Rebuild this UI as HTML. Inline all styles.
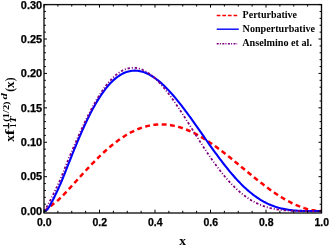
<!DOCTYPE html>
<html><head><meta charset="utf-8"><title>Plot</title>
<style>
html,body{margin:0;padding:0;background:#fff;}
svg{display:block;will-change:transform;}
</style></head>
<body>
<svg width="329" height="245" viewBox="0 0 329 245">
<rect width="329" height="245" fill="#fff"/>
<clipPath id="c"><rect x="44.0" y="4.6" width="277.5" height="208.4"/></clipPath>
<g clip-path="url(#c)" fill="none" stroke-linejoin="round">
<path d="M44.00,211.10 L44.51,210.84 L45.13,210.45 L45.81,209.99 L46.51,209.47 L47.25,208.90 L48.01,208.30 L48.79,207.68 L49.58,207.02 L50.39,206.35 L51.21,205.66 L52.05,204.96 L52.90,204.27 L53.75,203.60 L54.62,202.93 L55.50,202.26 L56.38,201.57 L57.28,200.85 L58.18,200.07 L59.09,199.22 L60.01,198.32 L60.93,197.41 L61.86,196.47 L62.80,195.52 L63.74,194.54 L64.69,193.55 L65.64,192.55 L66.60,191.53 L67.57,190.50 L68.54,189.46 L69.51,188.40 L70.50,187.33 L71.48,186.25 L72.47,185.16 L73.46,184.07 L74.46,182.97 L75.47,181.86 L76.47,180.75 L77.49,179.63 L78.50,178.51 L79.52,177.39 L80.54,176.27 L81.57,175.14 L82.60,174.02 L83.63,172.89 L84.67,171.76 L85.71,170.64 L86.76,169.52 L87.81,168.40 L88.86,167.28 L89.91,166.16 L90.97,165.05 L92.03,163.95 L93.09,162.85 L94.16,161.76 L95.23,160.67 L96.30,159.59 L97.38,158.52 L98.46,157.46 L99.54,156.40 L100.62,155.36 L101.71,154.32 L102.80,153.30 L103.89,152.29 L104.98,151.28 L106.08,150.29 L107.18,149.32 L108.28,148.35 L109.39,147.40 L110.49,146.47 L111.60,145.54 L112.72,144.64 L113.83,143.74 L114.95,142.87 L116.06,142.01 L117.19,141.16 L118.31,140.33 L119.43,139.53 L120.56,138.73 L121.69,137.96 L122.82,137.20 L123.96,136.47 L125.09,135.75 L126.23,135.05 L127.37,134.37 L128.52,133.72 L129.66,133.08 L130.81,132.46 L131.95,131.87 L133.11,131.29 L134.26,130.74 L135.41,130.21 L136.57,129.70 L137.73,129.21 L138.89,128.75 L140.05,128.30 L141.21,127.89 L142.38,127.49 L143.54,127.12 L144.71,126.77 L145.88,126.44 L147.06,126.14 L148.23,125.86 L149.41,125.61 L150.58,125.38 L151.76,125.17 L152.94,124.99 L154.13,124.83 L155.31,124.70 L156.50,124.59 L157.69,124.51 L158.88,124.45 L160.07,124.41 L161.26,124.40 L162.45,124.42 L163.65,124.46 L164.85,124.52 L166.04,124.61 L167.25,124.72 L168.45,124.85 L169.65,125.01 L170.86,125.20 L172.06,125.40 L173.27,125.64 L174.48,125.89 L175.69,126.17 L176.90,126.47 L178.12,126.80 L179.33,127.15 L180.55,127.52 L181.77,127.92 L182.98,128.33 L184.21,128.77 L185.43,129.24 L186.65,129.72 L187.88,130.23 L189.10,130.75 L190.33,131.30 L191.56,131.87 L192.79,132.46 L194.02,133.07 L195.25,133.70 L196.49,134.35 L197.72,135.01 L198.96,135.70 L200.20,136.41 L201.44,137.13 L202.68,137.87 L203.92,138.63 L205.16,139.41 L206.41,140.20 L207.65,141.01 L208.90,141.83 L210.15,142.67 L211.40,143.52 L212.65,144.39 L213.90,145.28 L215.16,146.17 L216.41,147.08 L217.66,148.00 L218.92,148.94 L220.18,149.88 L221.44,150.84 L222.70,151.80 L223.96,152.78 L225.22,153.77 L226.49,154.76 L227.75,155.76 L229.02,156.78 L230.28,157.79 L231.55,158.82 L232.82,159.85 L234.09,160.89 L235.36,161.93 L236.64,162.97 L237.91,164.02 L239.18,165.07 L240.46,166.13 L241.74,167.19 L243.02,168.24 L244.29,169.30 L245.57,170.36 L246.86,171.42 L248.14,172.48 L249.42,173.53 L250.71,174.59 L251.99,175.64 L253.28,176.68 L254.57,177.72 L255.85,178.76 L257.14,179.79 L258.43,180.82 L259.73,181.84 L261.02,182.85 L262.31,183.85 L263.61,184.84 L264.90,185.83 L266.20,186.80 L267.50,187.77 L268.79,188.72 L270.09,189.66 L271.39,190.59 L272.70,191.51 L274.00,192.41 L275.30,193.29 L276.61,194.17 L277.91,195.02 L279.22,195.87 L280.53,196.69 L281.83,197.50 L283.14,198.29 L284.45,199.06 L285.76,199.81 L287.08,200.54 L288.39,201.26 L289.70,201.95 L291.02,202.62 L292.33,203.27 L293.65,203.90 L294.97,204.50 L296.29,205.08 L297.60,205.64 L298.92,206.18 L300.25,206.69 L301.57,207.17 L302.89,207.63 L304.21,208.07 L305.54,208.48 L306.86,208.86 L308.19,209.21 L309.52,209.54 L310.85,209.84 L312.17,210.11 L313.50,210.35 L314.83,210.56 L316.17,210.73 L317.50,210.88 L318.83,210.99 L320.17,211.07 L321.50,211.10" stroke="#ff0000" stroke-width="2.5" stroke-dasharray="4.9 3.44" stroke-dashoffset="0.2"/>
<path d="M44.00,211.10 L44.51,211.03 L45.13,210.81 L45.81,210.43 L46.51,209.97 L47.25,209.37 L48.01,208.49 L48.79,207.35 L49.58,206.07 L50.39,204.64 L51.21,203.09 L52.05,201.51 L52.90,199.90 L53.75,198.21 L54.62,196.45 L55.50,194.65 L56.38,192.81 L57.28,190.90 L58.18,188.94 L59.09,186.93 L60.01,184.85 L60.93,182.74 L61.86,180.54 L62.80,178.24 L63.74,175.89 L64.69,173.50 L65.64,171.08 L66.60,168.63 L67.57,166.18 L68.54,163.72 L69.51,161.27 L70.50,158.81 L71.48,156.34 L72.47,153.88 L73.46,151.41 L74.46,148.96 L75.47,146.51 L76.47,144.07 L77.49,141.64 L78.50,139.23 L79.52,136.84 L80.54,134.47 L81.57,132.12 L82.60,129.80 L83.63,127.50 L84.67,125.23 L85.71,122.99 L86.76,120.79 L87.81,118.62 L88.86,116.49 L89.91,114.39 L90.97,112.33 L92.03,110.31 L93.09,108.33 L94.16,106.40 L95.23,104.51 L96.30,102.66 L97.38,100.86 L98.46,99.11 L99.54,97.40 L100.62,95.74 L101.71,94.13 L102.80,92.58 L103.89,91.07 L104.98,89.61 L106.08,88.20 L107.18,86.85 L108.28,85.55 L109.39,84.30 L110.49,83.11 L111.60,81.97 L112.72,80.88 L113.83,79.85 L114.95,78.87 L116.06,77.95 L117.19,77.08 L118.31,76.27 L119.43,75.51 L120.56,74.81 L121.69,74.16 L122.82,73.57 L123.96,73.03 L125.09,72.55 L126.23,72.12 L127.37,71.75 L128.52,71.43 L129.66,71.16 L130.81,70.95 L131.95,70.80 L133.11,70.69 L134.26,70.64 L135.41,70.65 L136.57,70.70 L137.73,70.81 L138.89,70.97 L140.05,71.18 L141.21,71.45 L142.38,71.76 L143.54,72.12 L144.71,72.53 L145.88,72.99 L147.06,73.50 L148.23,74.06 L149.41,74.66 L150.58,75.31 L151.76,76.01 L152.94,76.75 L154.13,77.54 L155.31,78.37 L156.50,79.24 L157.69,80.15 L158.88,81.11 L160.07,82.10 L161.26,83.14 L162.45,84.21 L163.65,85.33 L164.85,86.48 L166.04,87.66 L167.25,88.89 L168.45,90.14 L169.65,91.43 L170.86,92.75 L172.06,94.11 L173.27,95.49 L174.48,96.90 L175.69,98.34 L176.90,99.81 L178.12,101.31 L179.33,102.83 L180.55,104.37 L181.77,105.94 L182.98,107.53 L184.21,109.13 L185.43,110.76 L186.65,112.41 L187.88,114.07 L189.10,115.75 L190.33,117.45 L191.56,119.15 L192.79,120.87 L194.02,122.61 L195.25,124.35 L196.49,126.10 L197.72,127.85 L198.96,129.61 L200.20,131.38 L201.44,133.15 L202.68,134.93 L203.92,136.70 L205.16,138.48 L206.41,140.25 L207.65,142.02 L208.90,143.78 L210.15,145.55 L211.40,147.30 L212.65,149.05 L213.90,150.79 L215.16,152.52 L216.41,154.23 L217.66,155.94 L218.92,157.63 L220.18,159.31 L221.44,160.97 L222.70,162.62 L223.96,164.25 L225.22,165.86 L226.49,167.44 L227.75,169.01 L229.02,170.56 L230.28,172.09 L231.55,173.59 L232.82,175.06 L234.09,176.51 L235.36,177.94 L236.64,179.34 L237.91,180.71 L239.18,182.05 L240.46,183.36 L241.74,184.65 L243.02,185.90 L244.29,187.13 L245.57,188.32 L246.86,189.48 L248.14,190.61 L249.42,191.70 L250.71,192.77 L251.99,193.80 L253.28,194.80 L254.57,195.76 L255.85,196.69 L257.14,197.59 L258.43,198.45 L259.73,199.28 L261.02,200.08 L262.31,200.84 L263.61,201.58 L264.90,202.27 L266.20,202.94 L267.50,203.57 L268.79,204.17 L270.09,204.74 L271.39,205.28 L272.70,205.79 L274.00,206.27 L275.30,206.72 L276.61,207.14 L277.91,207.54 L279.22,207.90 L280.53,208.25 L281.83,208.56 L283.14,208.85 L284.45,209.12 L285.76,209.36 L287.08,209.59 L288.39,209.79 L289.70,209.97 L291.02,210.14 L292.33,210.29 L293.65,210.42 L294.97,210.53 L296.29,210.63 L297.60,210.72 L298.92,210.79 L300.25,210.86 L301.57,210.91 L302.89,210.95 L304.21,210.99 L305.54,211.02 L306.86,211.04 L308.19,211.06 L309.52,211.07 L310.85,211.08 L312.17,211.09 L313.50,211.09 L314.83,211.10 L316.17,211.10 L317.50,211.10 L318.83,211.10 L320.17,211.10 L321.50,211.10" stroke="#0000ff" stroke-width="2.1"/>
<path d="M44.00,211.10 L44.51,210.95 L45.13,210.29 L45.81,209.02 L46.51,207.43 L47.25,205.94 L48.01,204.60 L48.79,203.16 L49.58,201.64 L50.39,200.06 L51.21,198.46 L52.05,196.80 L52.90,195.12 L53.75,193.42 L54.62,191.66 L55.50,189.84 L56.38,187.96 L57.28,186.05 L58.18,184.16 L59.09,182.24 L60.01,180.19 L60.93,177.97 L61.86,175.69 L62.80,173.34 L63.74,170.96 L64.69,168.54 L65.64,166.12 L66.60,163.70 L67.57,161.29 L68.54,158.93 L69.51,156.61 L70.50,154.29 L71.48,151.97 L72.47,149.65 L73.46,147.33 L74.46,145.02 L75.47,142.71 L76.47,140.41 L77.49,138.11 L78.50,135.83 L79.52,133.56 L80.54,131.31 L81.57,129.07 L82.60,126.85 L83.63,124.65 L84.67,122.47 L85.71,120.31 L86.76,118.17 L87.81,116.07 L88.86,113.98 L89.91,111.93 L90.97,109.91 L92.03,107.92 L93.09,105.96 L94.16,104.04 L95.23,102.15 L96.30,100.30 L97.38,98.49 L98.46,96.72 L99.54,94.99 L100.62,93.31 L101.71,91.67 L102.80,90.07 L103.89,88.53 L104.98,87.03 L106.08,85.57 L107.18,84.17 L108.28,82.82 L109.39,81.53 L110.49,80.28 L111.60,79.09 L112.72,77.96 L113.83,76.88 L114.95,75.86 L116.06,74.90 L117.19,73.99 L118.31,73.15 L119.43,72.36 L120.56,71.63 L121.69,70.97 L122.82,70.37 L123.96,69.83 L125.09,69.35 L126.23,68.93 L127.37,68.58 L128.52,68.28 L129.66,68.06 L130.81,67.89 L131.95,67.79 L133.11,67.75 L134.26,67.78 L135.41,67.86 L136.57,68.01 L137.73,68.23 L138.89,68.50 L140.05,68.84 L141.21,69.24 L142.38,69.70 L143.54,70.22 L144.71,70.79 L145.88,71.43 L147.06,72.13 L148.23,72.88 L149.41,73.69 L150.58,74.56 L151.76,75.48 L152.94,76.46 L154.13,77.49 L155.31,78.57 L156.50,79.70 L157.69,80.88 L158.88,82.11 L160.07,83.39 L161.26,84.71 L162.45,86.08 L163.65,87.49 L164.85,88.94 L166.04,90.43 L167.25,91.96 L168.45,93.53 L169.65,95.13 L170.86,96.77 L172.06,98.44 L173.27,100.14 L174.48,101.87 L175.69,103.62 L176.90,105.41 L178.12,107.21 L179.33,109.04 L180.55,110.89 L181.77,112.76 L182.98,114.65 L184.21,116.55 L185.43,118.46 L186.65,120.39 L187.88,122.33 L189.10,124.27 L190.33,126.22 L191.56,128.18 L192.79,130.14 L194.02,132.10 L195.25,134.06 L196.49,136.02 L197.72,137.97 L198.96,139.92 L200.20,141.87 L201.44,143.80 L202.68,145.72 L203.92,147.64 L205.16,149.53 L206.41,151.42 L207.65,153.29 L208.90,155.14 L210.15,156.97 L211.40,158.78 L212.65,160.57 L213.90,162.33 L215.16,164.08 L216.41,165.79 L217.66,167.48 L218.92,169.15 L220.18,170.78 L221.44,172.39 L222.70,173.96 L223.96,175.51 L225.22,177.02 L226.49,178.50 L227.75,179.95 L229.02,181.36 L230.28,182.74 L231.55,184.09 L232.82,185.40 L234.09,186.67 L235.36,187.91 L236.64,189.11 L237.91,190.27 L239.18,191.40 L240.46,192.49 L241.74,193.54 L243.02,194.56 L244.29,195.54 L245.57,196.48 L246.86,197.39 L248.14,198.26 L249.42,199.09 L250.71,199.89 L251.99,200.66 L253.28,201.39 L254.57,202.08 L255.85,202.75 L257.14,203.37 L258.43,203.97 L259.73,204.53 L261.02,205.07 L262.31,205.57 L263.61,206.04 L264.90,206.49 L266.20,206.91 L267.50,207.30 L268.79,207.66 L270.09,208.00 L271.39,208.31 L272.70,208.60 L274.00,208.87 L275.30,209.12 L276.61,209.35 L277.91,209.55 L279.22,209.74 L280.53,209.91 L281.83,210.07 L283.14,210.21 L284.45,210.33 L285.76,210.45 L287.08,210.54 L288.39,210.63 L289.70,210.71 L291.02,210.78 L292.33,210.83 L293.65,210.88 L294.97,210.93 L296.29,210.96 L297.60,210.99 L298.92,211.02 L300.25,211.04 L301.57,211.05 L302.89,211.07 L304.21,211.08 L305.54,211.08 L306.86,211.09 L308.19,211.09 L309.52,211.10 L310.85,211.10 L312.17,211.10 L313.50,211.10 L314.83,211.10 L316.17,211.10 L317.50,211.10 L318.83,211.10 L320.17,211.10 L321.50,211.10" stroke="#800080" stroke-width="1.8" stroke-dasharray="2.4 1.85 1.0 1.88" stroke-dashoffset="2.65"/>
</g>
<rect x="44.0" y="4.6" width="277.5" height="208.4" fill="none" stroke="#111" stroke-width="1.35"/>
<path d="M44.00,213.0 v-3.3 M44.00,4.6 v3.0 M57.88,213.0 v-2.1999999999999997 M57.88,4.6 v1.9 M71.75,213.0 v-2.1999999999999997 M71.75,4.6 v1.9 M85.62,213.0 v-2.1999999999999997 M85.62,4.6 v1.9 M99.50,213.0 v-3.3 M99.50,4.6 v3.0 M113.38,213.0 v-2.1999999999999997 M113.38,4.6 v1.9 M127.25,213.0 v-2.1999999999999997 M127.25,4.6 v1.9 M141.12,213.0 v-2.1999999999999997 M141.12,4.6 v1.9 M155.00,213.0 v-3.3 M155.00,4.6 v3.0 M168.88,213.0 v-2.1999999999999997 M168.88,4.6 v1.9 M182.75,213.0 v-2.1999999999999997 M182.75,4.6 v1.9 M196.62,213.0 v-2.1999999999999997 M196.62,4.6 v1.9 M210.50,213.0 v-3.3 M210.50,4.6 v3.0 M224.38,213.0 v-2.1999999999999997 M224.38,4.6 v1.9 M238.25,213.0 v-2.1999999999999997 M238.25,4.6 v1.9 M252.12,213.0 v-2.1999999999999997 M252.12,4.6 v1.9 M266.00,213.0 v-3.3 M266.00,4.6 v3.0 M279.88,213.0 v-2.1999999999999997 M279.88,4.6 v1.9 M293.75,213.0 v-2.1999999999999997 M293.75,4.6 v1.9 M307.62,213.0 v-2.1999999999999997 M307.62,4.6 v1.9 M321.50,213.0 v-3.3 M321.50,4.6 v3.0 M44.0,211.10 h3.0 M321.5,211.10 h-3.0 M44.0,204.22 h1.9 M321.5,204.22 h-1.9 M44.0,197.33 h1.9 M321.5,197.33 h-1.9 M44.0,190.45 h1.9 M321.5,190.45 h-1.9 M44.0,183.57 h1.9 M321.5,183.57 h-1.9 M44.0,176.68 h3.0 M321.5,176.68 h-3.0 M44.0,169.80 h1.9 M321.5,169.80 h-1.9 M44.0,162.92 h1.9 M321.5,162.92 h-1.9 M44.0,156.03 h1.9 M321.5,156.03 h-1.9 M44.0,149.15 h1.9 M321.5,149.15 h-1.9 M44.0,142.27 h3.0 M321.5,142.27 h-3.0 M44.0,135.38 h1.9 M321.5,135.38 h-1.9 M44.0,128.50 h1.9 M321.5,128.50 h-1.9 M44.0,121.62 h1.9 M321.5,121.62 h-1.9 M44.0,114.73 h1.9 M321.5,114.73 h-1.9 M44.0,107.85 h3.0 M321.5,107.85 h-3.0 M44.0,100.97 h1.9 M321.5,100.97 h-1.9 M44.0,94.08 h1.9 M321.5,94.08 h-1.9 M44.0,87.20 h1.9 M321.5,87.20 h-1.9 M44.0,80.32 h1.9 M321.5,80.32 h-1.9 M44.0,73.43 h3.0 M321.5,73.43 h-3.0 M44.0,66.55 h1.9 M321.5,66.55 h-1.9 M44.0,59.67 h1.9 M321.5,59.67 h-1.9 M44.0,52.78 h1.9 M321.5,52.78 h-1.9 M44.0,45.90 h1.9 M321.5,45.90 h-1.9 M44.0,39.02 h3.0 M321.5,39.02 h-3.0 M44.0,32.13 h1.9 M321.5,32.13 h-1.9 M44.0,25.25 h1.9 M321.5,25.25 h-1.9 M44.0,18.37 h1.9 M321.5,18.37 h-1.9 M44.0,11.48 h1.9 M321.5,11.48 h-1.9 M44.0,4.60 h3.0 M321.5,4.60 h-3.0" stroke="#000" stroke-width="1" fill="none"/>
<g font-family="'Liberation Sans', Arial, sans-serif" font-weight="bold" font-size="10.6px" fill="#000" stroke="#000" stroke-width="0.25">
<text x="42.2" y="214.65" text-anchor="end" textLength="21.4" lengthAdjust="spacingAndGlyphs">0.00</text>
<text x="42.2" y="180.36" text-anchor="end" textLength="21.4" lengthAdjust="spacingAndGlyphs">0.05</text>
<text x="42.2" y="146.07" text-anchor="end" textLength="21.4" lengthAdjust="spacingAndGlyphs">0.10</text>
<text x="42.2" y="111.77" text-anchor="end" textLength="21.4" lengthAdjust="spacingAndGlyphs">0.15</text>
<text x="42.2" y="77.48" text-anchor="end" textLength="21.4" lengthAdjust="spacingAndGlyphs">0.20</text>
<text x="42.2" y="43.19" text-anchor="end" textLength="21.4" lengthAdjust="spacingAndGlyphs">0.25</text>
<text x="42.2" y="8.90" text-anchor="end" textLength="21.4" lengthAdjust="spacingAndGlyphs">0.30</text>
<text x="44.30" y="226" text-anchor="middle" textLength="14.6" lengthAdjust="spacingAndGlyphs">0.0</text>
<text x="99.80" y="226" text-anchor="middle" textLength="14.6" lengthAdjust="spacingAndGlyphs">0.2</text>
<text x="155.30" y="226" text-anchor="middle" textLength="14.6" lengthAdjust="spacingAndGlyphs">0.4</text>
<text x="210.80" y="226" text-anchor="middle" textLength="14.6" lengthAdjust="spacingAndGlyphs">0.6</text>
<text x="266.30" y="226" text-anchor="middle" textLength="14.6" lengthAdjust="spacingAndGlyphs">0.8</text>
<text x="321.80" y="226" text-anchor="middle" textLength="14.6" lengthAdjust="spacingAndGlyphs">1.0</text>
</g>
<g font-family="'Liberation Serif', 'Times New Roman', serif" font-weight="bold" fill="#000">
<text x="182.6" y="244.5" text-anchor="middle" font-size="13.5px">x</text>
<g transform="translate(14,143) rotate(-90)"><text x="1.2" y="0" font-size="13.3px" textLength="6.50" lengthAdjust="spacingAndGlyphs" >x</text><text x="7.7" y="0" font-size="13.3px" textLength="5.90" lengthAdjust="spacingAndGlyphs" >f</text><text x="15.6" y="2.3" font-size="7.2px" textLength="3.80" lengthAdjust="spacingAndGlyphs" >1</text><text x="19.9" y="2.3" font-size="7.2px" textLength="6.70" lengthAdjust="spacingAndGlyphs" font-style="italic">T</text><text x="13.9" y="-5.1" font-size="8.2px" textLength="6.40" lengthAdjust="spacingAndGlyphs" font-family="'DejaVu Sans', sans-serif" stroke="#000" stroke-width="0.45">⊥</text><text x="21.3" y="-5.0" font-size="7.6px" textLength="20.30" lengthAdjust="spacingAndGlyphs" >(1/2)</text><text x="43.6" y="-7.0" font-size="8.4px" textLength="6.40" lengthAdjust="spacingAndGlyphs" font-style="italic">d</text><text x="51.2" y="0" font-size="13.3px" textLength="3.80" lengthAdjust="spacingAndGlyphs" >(</text><text x="55.0" y="0" font-size="13.3px" textLength="6.50" lengthAdjust="spacingAndGlyphs" >x</text><text x="61.8" y="0" font-size="13.3px" textLength="3.80" lengthAdjust="spacingAndGlyphs" >)</text></g>
<text x="242.6" y="18.0" font-size="10px" textLength="54.4" lengthAdjust="spacingAndGlyphs">Perturbative</text>
<text x="242.6" y="32.2" font-size="10px" textLength="72.5" lengthAdjust="spacingAndGlyphs">Nonperturbative</text>
<text x="242.2" y="46.2" font-size="10px" textLength="69.8" lengthAdjust="spacingAndGlyphs">Anselmino et al.</text>
</g>
<path d="M216.7,15.5 H237.2" stroke="#ff0000" stroke-width="1.6" stroke-dasharray="3.7 1.9" fill="none"/>
<path d="M216.7,29.2 H238.8" stroke="#0000ff" stroke-width="1.4" fill="none"/>
<path d="M216.7,43.8 H237.2" stroke="#800080" stroke-width="1.5" stroke-dasharray="2 1.1 1.1 1.4" fill="none"/>
</svg>
</body></html>
